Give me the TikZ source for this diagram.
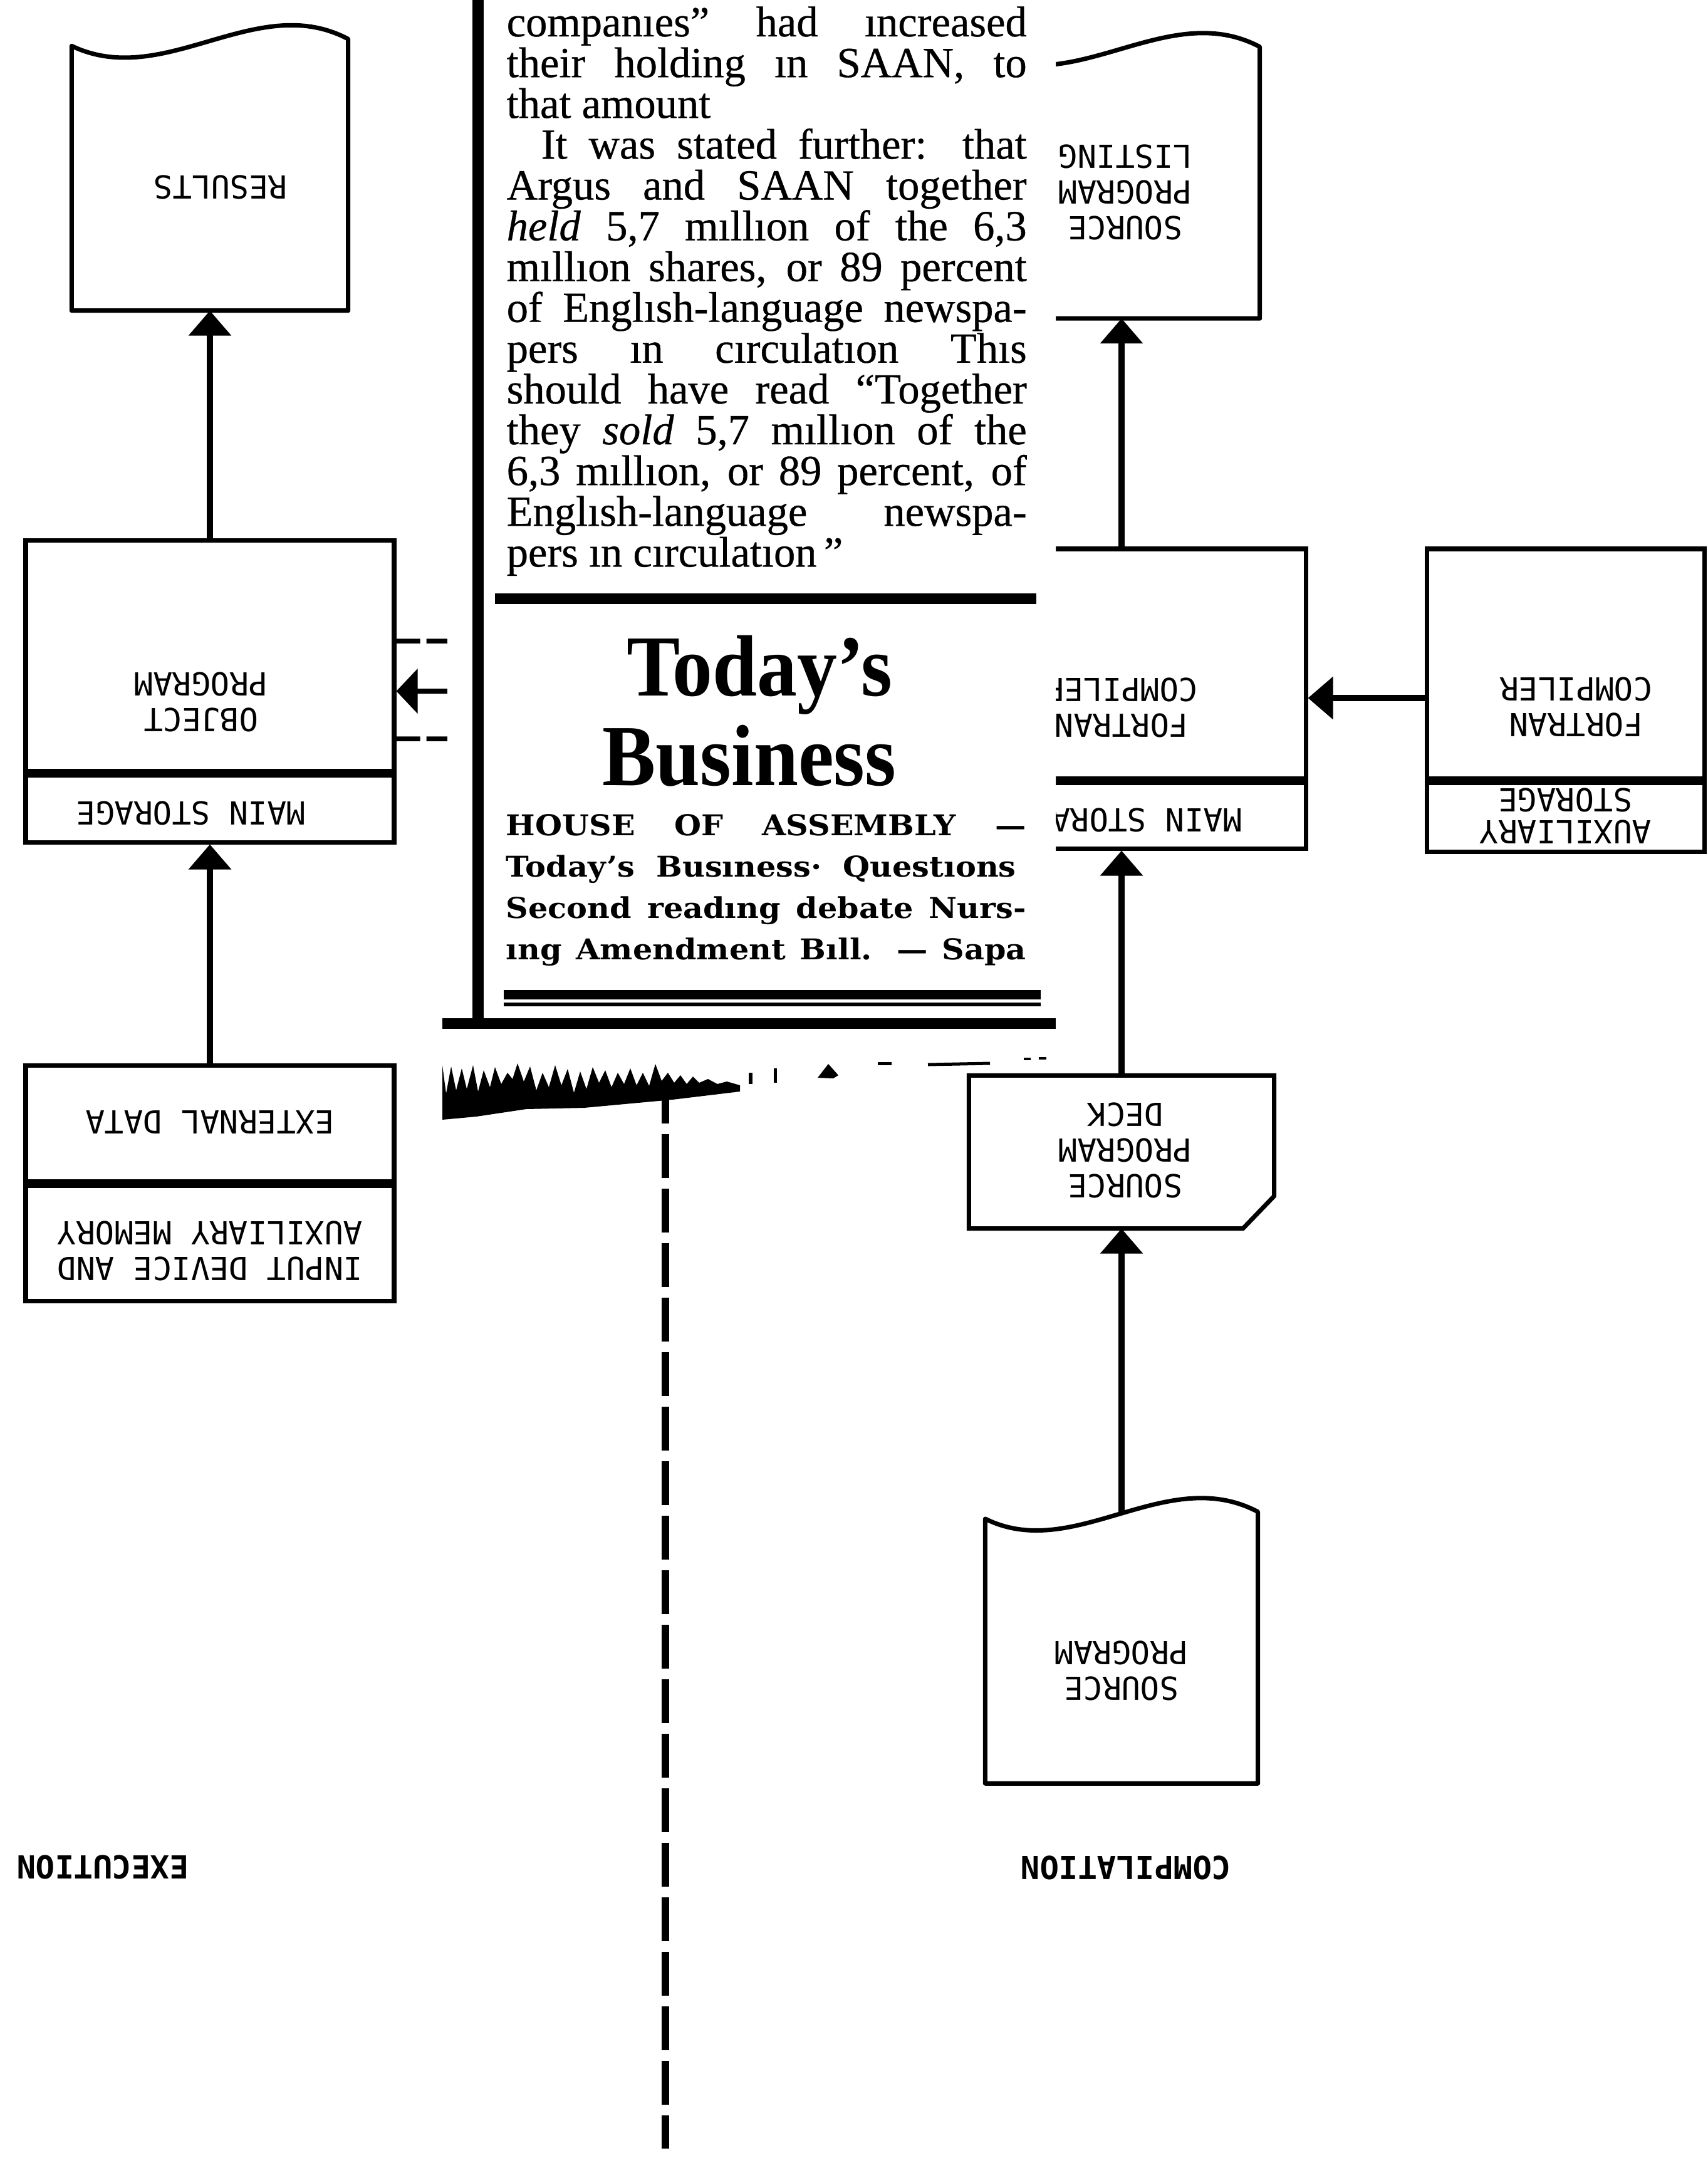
\documentclass[tikz,border=0pt]{standalone}
\usepackage{fontspec}
\usepackage{graphicx}
\usetikzlibrary{arrows.meta,positioning}

\newfontfamily\chartfont{DejaVu Sans Mono}
\newfontfamily\newsfont{Liberation Serif}[FakeBold=0.5]
\newfontfamily\headfont{Liberation Serif}
\newfontfamily\noticefont{DejaVu Serif}

\begin{document}
\begin{tikzpicture}[
    box/.style={draw, line width=2pt, minimum width=5.88cm, inner sep=0pt},
    doc/.style={minimum width=4.4cm, minimum height=4.32cm, inner sep=0pt},
    card/.style={minimum width=4.86cm, minimum height=2.43cm, inner sep=0pt},
    lbl/.style={font=\chartfont\fontsize{14.4}{16.2}\selectfont, inner sep=0pt},
    flow/.style={line width=1mm, -{Triangle[length=4mm,width=6.6mm]}},
    objlink/.style={line width=0.75mm, dash pattern=on 3.8mm off 1mm},
    divider/.style={line width=1.2mm, dash pattern=on 7mm off 1.7mm},
    story/.style={font=\newsfont\fontsize{19.5}{19.5}\selectfont, anchor=base west, inner sep=0pt},
    notice/.style={font=\noticefont\bfseries\fontsize{13}{13}\selectfont, anchor=base west, inner sep=0pt, xscale=1.08},
    headline/.style={font=\headfont\bfseries\fontsize{39.5}{40}\selectfont, anchor=base, inner sep=0pt, xscale=0.92}
  ]
  \useasboundingbox (0,0) rectangle (27.26,-34.52);

  % 倒置的框内文字
  \def\flip#1{\rotatebox{180}{\begin{tabular}{@{}c@{}}#1\end{tabular}}}
  % 文档符号：底边平直，顶边波浪
  \def\docshape#1{\draw[line width=2pt, line join=round] (#1.north east)
      .. controls ([shift={(-1.47,0.78)}]#1.north east) and ([shift={(-2.93,-0.82)}]#1.north east)
      .. ([yshift=-1.1mm]#1.north west) -- (#1.south west) -- (#1.south east) -- cycle;}
  % 两端对齐的一行（正文 / 公告）
  \def\jline#1{\makebox[8.3cm][s]{#1}}
  \def\nline#1{\makebox[7.685cm][s]{#1}}

  % 左列：执行
  \node[doc] (results) at (3.35,-2.79) {};
  \node[box, minimum height=3.68cm] (objprog) at (3.35,-10.46) {};
  \node[box, minimum height=1.07cm, below=0pt of objprog] (objmain) {};
  \node[box, minimum height=1.85cm] (extdata) at (3.35,-17.925) {};
  \node[box, minimum height=1.84cm, below=0pt of extdata] (inputdev) {};
  \docshape{results}

  \node[lbl] (results-t) at ([shift={(0.17,-0.13)}]results.center) {\flip{RESULTS}};
  \node[lbl] (objprog-t) at ([shift={(-0.14,-0.67)}]objprog.center) {\flip{OBJECT\\PROGRAM}};
  \node[lbl] (objmain-t) at ([xshift=-3mm]objmain.center) {\flip{MAIN STORAGE}};
  \node[lbl] (extdata-t) at ([yshift=0.9mm]extdata.center) {\flip{EXTERNAL DATA}};
  \node[lbl] (inputdev-t) at ([yshift=-0.5mm]inputdev.center) {\flip{INPUT DEVICE AND\\AUXILIARY MEMORY}};

  % 右列：编译
  \node[doc] (listing) at (17.9,-2.915) {};
  \node[box, minimum height=3.66cm] (fortran) at (17.9,-10.59) {};
  \node[box, minimum height=1.05cm, below=0pt of fortran] (fortmain) {};
  \node[box, minimum width=4.43cm, minimum height=3.66cm] (auxfort) at (24.985,-10.59) {};
  \node[box, minimum width=4.43cm, minimum height=1.10cm, below=0pt of auxfort] (auxstore) {};
  \node[card] (deck) at (17.9,-18.385) {};
  \node[doc, minimum width=4.34cm] (srcprog) at (17.9,-26.295) {};
  \docshape{listing}
  \docshape{srcprog}
  % 卡片：右下角切角
  \draw[line width=2pt] (deck.north west) -- (deck.north east) -- ([yshift=5.2mm]deck.south east)
    -- ([xshift=-5mm]deck.south east) -- (deck.south west) -- cycle;

  \node[lbl] (listing-t) at ([shift={(0.06,-0.08)}]listing.center) {\flip{SOURCE\\PROGRAM\\LISTING}};
  \node[lbl] (fortran-t) at ([yshift=-6.3mm]fortran.center) {\flip{FORTRAN\\COMPILER}};
  \node[lbl, anchor=east] (fortmain-t) at ([xshift=19.3mm]fortmain.center) {\flip{MAIN STORA}};
  \node[lbl] (auxfort-t) at ([shift={(0.17,-0.62)}]auxfort.center) {\flip{FORTRAN\\COMPILER}};
  \node[lbl, font=\chartfont\fontsize{14.4}{12.6}\selectfont] (auxstore-t) at ([yshift=0.8mm]auxstore.center) {\flip{AUXILIARY\\STORAGE}};
  \node[lbl] (deck-t) at ([shift={(0.06,0.10)}]deck.center) {\flip{SOURCE\\PROGRAM\\DECK}};
  \node[lbl] (srcprog-t) at ([yshift=-3mm]srcprog.center) {\flip{SOURCE\\PROGRAM}};

  \node[lbl, font=\chartfont\bfseries\fontsize{14.4}{16}\selectfont] (exec) at (1.64,-29.80) {\rotatebox{180}{EXECUTION}};
  \node[lbl, font=\chartfont\bfseries\fontsize{14.4}{16}\selectfont] (comp) at (17.97,-29.81) {\rotatebox{180}{COMPILATION}};

  % 连线
  \draw[flow] (objprog.north) -- (results.south);
  \draw[flow] (extdata.north) -- (objmain.south);
  \draw[flow] (fortran.north) -- (listing.south);
  \draw[flow] (deck.north) -- (fortmain.south);
  \draw[flow] (srcprog.north) -- (deck.south);
  \draw[flow] ([yshift=-5.5mm]auxfort.west) -- ([yshift=-5.5mm]fortran.east);

  % 目标程序右侧的三条线（伸到剪报下面）
  \coordinate (cut1) at ([shift={(0.86,0.23)}]objprog.east);
  \coordinate (cut2) at ([shift={(0.86,-0.57)}]objprog.east);
  \coordinate (cut3) at ([shift={(0.86,-1.33)}]objprog.east);
  \draw[objlink] ([yshift=2.3mm]objprog.east) -- (cut1);
  \draw[flow, line width=0.8mm, -{Triangle[length=3.4mm,width=7mm]}] (cut2) -- ([yshift=-5.7mm]objprog.east);
  \draw[objlink] ([yshift=-13.3mm]objprog.east) -- (cut3);

  % 中间分隔虚线
  \coordinate (divtop) at (10.62,-17.23);
  \coordinate (divbot) at (10.62,-34.29);
  \draw[divider] (divtop) -- (divbot);

  % 剪报：白底盖住下面的图
  \fill[white] (7.14,0.1) -- (16.85,0.1) -- (16.85,-16.95) -- (11.8,-17.4) -- (10.66,-17.52)
    -- (7.14,-17.85) -- cycle;
  \draw[line width=1.8mm] (7.63,0.1) -- (7.63,-16.33);
  \draw[line width=1.7mm] (7.06,-16.33) -- (16.85,-16.33);
  \draw[line width=1.7mm] (7.90,-9.55) -- (16.54,-9.55);
  \draw[line width=1.5mm] (8.04,-15.875) -- (16.61,-15.875);
  \draw[line width=0.6mm] (8.04,-16.03) -- (16.61,-16.03);

  % 正文
  \node[story] (s1) at (8.08,-0.58) {\jline{companıes” had ıncreased}};
  \node[story] (s2) at (8.08,-1.231) {\jline{their holding ın SAAN, to}};
  \node[story] (s3) at (8.08,-1.882) {that amount};
  \node[story] (s4) at (8.08,-2.533) {\jline{\hspace*{0.55cm}It was stated further: that}};
  \node[story] (s5) at (8.08,-3.184) {\jline{Argus and SAAN together}};
  \node[story] (s6) at (8.08,-3.835) {\jline{\textit{held} 5,7 mıllıon of the 6,3}};
  \node[story] (s7) at (8.08,-4.486) {\jline{mıllıon shares, or 89 percent}};
  \node[story] (s8) at (8.08,-5.137) {\jline{of Englısh-language newspa-}};
  \node[story] (s9) at (8.08,-5.788) {\jline{pers ın cırculatıon Thıs}};
  \node[story] (s10) at (8.08,-6.439) {\jline{should have read “Together}};
  \node[story] (s11) at (8.08,-7.09) {\jline{they \textit{sold} 5,7 mıllıon of the}};
  \node[story] (s12) at (8.08,-7.741) {\jline{6,3 mıllıon, or 89 percent, of}};
  \node[story] (s13) at (8.08,-8.392) {\jline{Englısh-language newspa-}};
  \node[story] (s14) at (8.08,-9.043) {pers ın cırculatıon\,”};

  % 标题
  \node[headline] (h1) at (12.12,-11.10) {Today’s};
  \node[headline] (h2) at (11.96,-12.53) {Business};

  \node[notice] (n1) at (8.07,-13.33) {\nline{HOUSE OF ASSEMBLY —}};
  \node[notice] (n2) at (8.07,-13.99) {\makebox[7.537cm][s]{Today’s Busıness· Questıons}};
  \node[notice] (n3) at (8.07,-14.65) {\nline{Second readıng debate Nurs-}};
  \node[notice] (n4) at (8.07,-15.31) {\nline{ıng Amendment Bıll. — Sapa}};

  % 撕口
  \def\torn{(7.06,-17.00) (7.12,-17.45) (7.20,-17.02) (7.28,-17.40) (7.37,-17.05) (7.45,-17.38)
            (7.55,-17.00) (7.63,-17.42) (7.72,-17.08) (7.82,-17.35) (7.90,-17.03) (8.00,-17.30)
            (8.10,-17.12) (8.18,-17.22) (8.26,-16.97) (8.36,-17.26) (8.46,-17.02) (8.56,-17.40)
            (8.66,-17.12) (8.76,-17.35) (8.86,-17.00) (8.96,-17.32) (9.06,-17.06) (9.16,-17.44)
            (9.26,-17.10) (9.36,-17.38) (9.46,-17.03) (9.56,-17.28) (9.66,-17.08) (9.76,-17.35)
            (9.86,-17.12) (9.96,-17.30) (10.06,-17.05) (10.16,-17.32) (10.26,-17.12) (10.36,-17.33)
            (10.46,-16.98) (10.56,-17.25) (10.66,-17.12) (10.76,-17.28) (10.86,-17.16) (10.96,-17.30)
            (11.06,-17.18) (11.16,-17.28) (11.30,-17.22) (11.45,-17.30) (11.60,-17.26) (11.81,-17.32)
            (11.81,-17.42) (10.73,-17.55) (9.32,-17.68) (8.40,-17.70) (7.60,-17.82) (7.06,-17.87)}
  \fill plot coordinates {\torn};
  \fill (11.95,-17.12) rectangle (12.01,-17.30);
  \fill (12.35,-17.05) rectangle (12.40,-17.28);
  \fill (13.05,-17.20) -- (13.22,-16.98) -- (13.38,-17.16) -- (13.30,-17.21) -- cycle;
  \draw[line width=0.5mm] (14.01,-16.97) -- (14.23,-16.97);
  \draw[line width=0.5mm] (14.81,-16.99) -- (15.80,-16.97);
  \draw[line width=0.4mm] (16.34,-16.90) -- (16.45,-16.90);
  \draw[line width=0.4mm] (16.58,-16.89) -- (16.70,-16.89);
\end{tikzpicture}
\end{document}
